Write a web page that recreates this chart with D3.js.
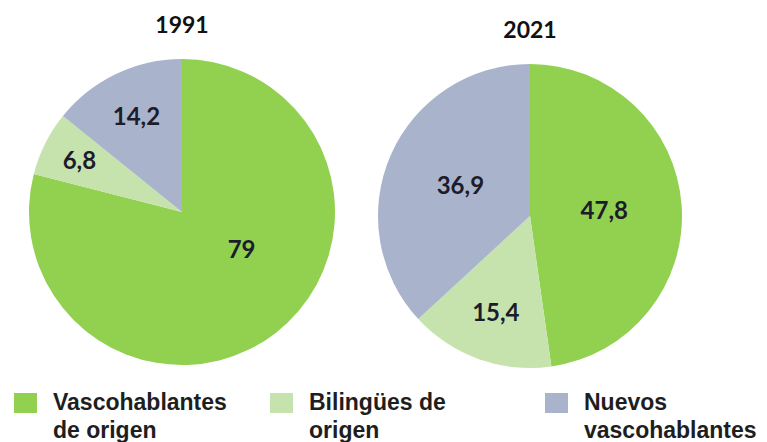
<!DOCTYPE html>
<html>
<head>
<meta charset="utf-8">
<script src="https://cdn.jsdelivr.net/npm/d3@7"></script>
<style>
  html, body { margin: 0; padding: 0; background: #fff; }
  svg { display: block; }
</style>
</head>
<body>
<svg id="chart" width="767" height="442"></svg>
<script>
// Speaker groups, in the order they are drawn clockwise from 12 o'clock
const categories = ["Vascohablantes de origen", "Bilingües de origen", "Nuevos vascohablantes"];
const legendLines = [["Vascohablantes", "de origen"], ["Bilingües de", "origen"], ["Nuevos", "vascohablantes"]];
const years = ["1991", "2021"];
const values1991 = [79, 6.8, 14.2];
const values2021 = [47.8, 15.4, 36.9];
const valueLabels1991 = ["79", "6,8", "14,2"];
const valueLabels2021 = ["47,8", "15,4", "36,9"];

// Layout
const colors = ["#92d050", "#c6e3ad", "#a9b4cc"];
const pies = [
  { cx: 182, cy: 212, r: 153, titleY: 33, values: values1991, labels: valueLabels1991,
    labelR: [0.46, 0.75, 0.69], labelTurn: [-20, 0, 0] },
  { cx: 530, cy: 216, r: 152, titleY: 38, values: values2021, labels: valueLabels2021,
    labelR: [0.49, 0.67, 0.50], labelTurn: [0, 0, 0] }
];
const legendX = [14, 270, 545];

const svg = d3.select("#chart");
const color = d3.scaleOrdinal().domain(categories).range(colors);
const pie = d3.pie().sort(null).value(d => d.value);

pies.forEach((p, i) => {
  const data = categories.map((c, k) => ({ cat: c, value: p.values[k], label: p.labels[k], k }));
  const arcs = pie(data);
  const arc = d3.arc().innerRadius(0).outerRadius(p.r);
  const g = svg.append("g").attr("transform", `translate(${p.cx},${p.cy})`);

  g.selectAll("path.slice")
    .data(arcs)
    .join("path")
    .attr("class", "slice")
    .attr("d", arc)
    .attr("fill", d => color(d.data.cat));

  g.selectAll("text.value")
    .data(arcs)
    .join("text")
    .attr("class", "value")
    .attr("transform", d => {
      const k = d.data.k;
      const rr = p.r * p.labelR[k];
      const turn = p.labelTurn[k] * Math.PI / 180;
      const a = (d.startAngle + d.endAngle) / 2 + turn;
      return `translate(${rr * Math.sin(a)},${-rr * Math.cos(a)})`;
    })
    .attr("text-anchor", "middle")
    .attr("dy", "0.36em")
    .attr("font-family", "Lato, 'Open Sans', sans-serif")
    .attr("font-weight", 700)
    .attr("font-size", 24)
    .attr("fill", "#1c1c2a")
    .text(d => d.data.label);

  svg.append("text")
    .attr("x", p.cx)
    .attr("y", p.titleY)
    .attr("text-anchor", "middle")
    .attr("font-family", "Lato, 'Open Sans', sans-serif")
    .attr("font-weight", 700)
    .attr("font-size", 23)
    .attr("fill", "#111")
    .text(years[i]);
});

// Legend
const legend = svg.selectAll("g.legend")
  .data(categories)
  .join("g")
  .attr("class", "legend")
  .attr("transform", (d, i) => `translate(${legendX[i]},393)`);

legend.append("rect")
  .attr("width", 23)
  .attr("height", 20)
  .attr("fill", d => color(d));

legend.each(function (d, i) {
  const t = d3.select(this).append("text")
    .attr("font-family", "'Liberation Sans', Arial, sans-serif")
    .attr("font-weight", 700)
    .attr("font-size", 23)
    .attr("fill", "#1e1e1e");
  legendLines[i].forEach((line, j) => {
    t.append("tspan").attr("x", 39).attr("y", 17 + j * 28).text(line);
  });
});
</script>
</body>
</html>
